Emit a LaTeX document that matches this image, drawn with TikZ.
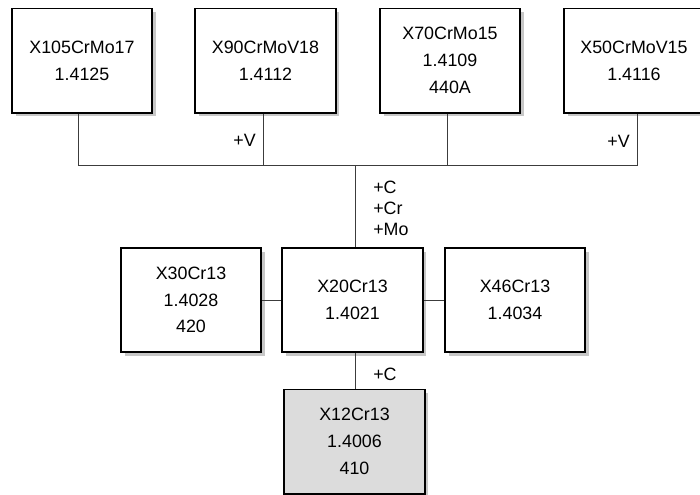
\documentclass[tikz,border=0pt]{standalone}
\usepackage{fontspec}
\setmainfont{Liberation Sans}
\usetikzlibrary{calc,shadows}
\definecolor{stgray}{RGB}{220,220,220}
\definecolor{stline}{RGB}{60,60,60}

\begin{document}
\begin{tikzpicture}[x=0.025cm,y=-0.025cm,font=\fontsize{12.7}{19}\selectfont,
    steel/.style={draw,line width=1.4pt,fill=white,align=center,inner sep=0pt,
      minimum width=3.5cm,minimum height=2.6cm,
      drop shadow={shadow xshift=2.8pt,shadow yshift=-2.8pt,fill=black!22,opacity=1}},
    link/.style={draw=stline,line width=0.7pt},
    addlbl/.style={inner sep=0pt,align=left,font=\fontsize{12.7}{14.9}\selectfont}]
    \useasboundingbox (0,0) rectangle (700,495);
    \clip (0,0) rectangle (700,495);
    % upper row
    \node[steel] (x105) at (82,60.5) {X105CrMo17\\1.4125};
    \node[steel] (x90) at (265.5,60.5) {X90CrMoV18\\1.4112};
    \node[steel] (x70) at (450,60.5) {X70CrMo15\\1.4109\\440A};
    \node[steel] (x50) at (634,60.5) {X50CrMoV15\\1.4116};
    % middle row
    \node[steel] (x30) at (191,300) {X30Cr13\\1.4028\\420};
    \node[steel] (x20) at (352.5,300) {X20Cr13\\1.4021};
    \node[steel] (x46) at (515,300) {X46Cr13\\1.4034};
    % base grade
    \node[steel,fill=stgray] (x12) at (354.5,441.5) {X12Cr13\\1.4006\\410};
    % bus
    \coordinate (bus) at (355,165);
    \coordinate (b1) at (78,165);
    \coordinate (b2) at (263,165);
    \coordinate (b3) at (447,165);
    \coordinate (b4) at (637,165);
    \draw[link] (x105.south -| b1) -- (b1) -- (b4) -- (x50.south -| b4);
    \draw[link] (x90.south -| b2) -- (b2);
    \draw[link] (x70.south -| b3) -- (b3);
    \draw[link] (bus) -- (x20.north -| bus);
    \draw[link] (x30) -- (x20);
    \draw[link] (x20) -- (x46);
    \draw[link] (x12.north -| bus) -- (x20.south -| bus);
    % labels
    \node[addlbl,anchor=east] (v90) at (256,140) {+V};
    \node[addlbl,anchor=east] (v50) at (630,141) {+V};
    \node[addlbl,anchor=north west] (crmo) at (373,181) {+C\\+Cr\\+Mo};
    \node[addlbl,anchor=west] (c12) at (373,374) {+C};
\end{tikzpicture}
\end{document}
